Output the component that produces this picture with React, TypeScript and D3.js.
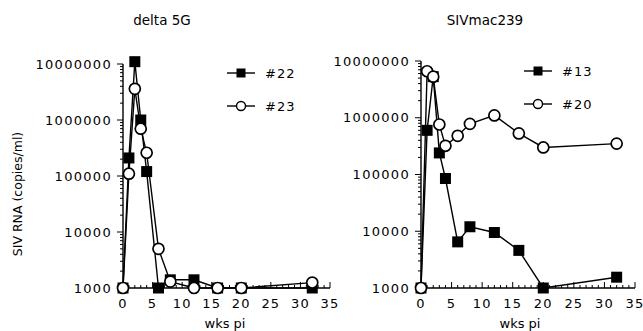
import React, { useEffect, useRef } from "react";
import * as d3 from "d3";

// weeks post infection
const weeks = [0, 1, 2, 3, 4, 6, 8, 12, 16, 20, 32];

// delta 5G animals
const animal22 = [1000, 210000, 11000000, 1000000, 120000, 1000, 1400, 1400, 1000, 1000, 1000];
const animal23 = [1000, 110000, 3600000, 700000, 260000, 5000, 1300, 1000, 1000, 1000, 1250];

// SIVmac239 animals
const animal13 = [1000, 600000, 5300000, 240000, 85000, 6500, 12000, 9500, 4600, 1000, 1550];
const animal20 = [1000, 6600000, 5300000, 760000, 320000, 480000, 780000, 1100000, 530000, 300000, 350000];

const yTicks = [1000, 10000, 100000, 1000000, 10000000];
const xTicks = [0, 5, 10, 15, 20, 25, 30, 35];

const FONT = "'DejaVu Sans', Verdana, sans-serif";

interface Series {
    name: string;
    values: number[];
    filled: boolean;
}

interface Panel {
    title: string;
    titleX: number;
    left: number;
    right: number;
    top: number;
    bottom: number;
    legendX: number;
    legendY: number;
    labelX: number;
    series: Series[];
}

const panels: Panel[] = [
    {
        title: "delta 5G", titleX: 162,
        left: 123, right: 330, top: 64, bottom: 288,
        legendX: 227, legendY: 73, labelX: 225,
        series: [
            { name: "#22", values: animal22, filled: true },
            { name: "#23", values: animal23, filled: false },
        ],
    },
    {
        title: "SIVmac239", titleX: 485,
        left: 421, right: 635, top: 61, bottom: 288,
        legendX: 524, legendY: 71, labelX: 520,
        series: [
            { name: "#13", values: animal13, filled: true },
            { name: "#20", values: animal20, filled: false },
        ],
    },
];

export default function App() {
    const svgRef = useRef<SVGSVGElement | null>(null);

    useEffect(() => {
        if (!svgRef.current) return;
        const svg = d3.select(svgRef.current);
        svg.selectAll("*").remove();

        panels.forEach((p) => {
            const g = svg.append("g");
            const x = d3.scaleLinear().domain([0, 35]).range([p.left, p.right]);
            const y = d3.scaleLog().domain([1000, 10000000]).range([p.bottom, p.top]);

            // title
            g.append("text")
                .attr("x", p.titleX)
                .attr("y", 25)
                .attr("text-anchor", "middle")
                .style("font-family", FONT)
                .style("font-size", "13.5px")
                .text(p.title);

            // y axis with log minor ticks
            g.append("line")
                .attr("x1", p.left).attr("x2", p.left)
                .attr("y1", y(10000000)).attr("y2", y(1000))
                .attr("stroke", "#000").attr("stroke-width", 1.4);
            const minor: number[] = [];
            for (let e = 3; e < 7; e++) {
                for (let m = 1; m < 10; m++) minor.push(m * Math.pow(10, e));
            }
            minor.push(10000000);
            g.selectAll(".ymin")
                .data(minor)
                .join("line")
                .attr("x1", p.left)
                .attr("x2", (d) => (yTicks.includes(d) ? p.left - 6 : p.left - 3))
                .attr("y1", (d) => y(d))
                .attr("y2", (d) => y(d))
                .attr("stroke", "#000")
                .attr("stroke-width", 1);
            g.selectAll(".ylab")
                .data(yTicks)
                .join("text")
                .attr("x", p.left - 11)
                .attr("y", (d) => y(d))
                .attr("dy", "0.36em")
                .attr("text-anchor", "end")
                .style("font-family", FONT)
                .style("font-size", "13px")
                .style("letter-spacing", "1.3px")
                .text((d) => d3.format("d")(d));

            // x axis with weekly minor ticks
            g.append("line")
                .attr("x1", x(0)).attr("x2", x(35))
                .attr("y1", p.bottom).attr("y2", p.bottom)
                .attr("stroke", "#000").attr("stroke-width", 1.4);
            g.selectAll(".xmin")
                .data(d3.range(0, 36))
                .join("line")
                .attr("x1", (d) => x(d))
                .attr("x2", (d) => x(d))
                .attr("y1", p.bottom)
                .attr("y2", (d) => (d % 5 === 0 ? p.bottom - 6 : p.bottom - 3))
                .attr("stroke", "#000")
                .attr("stroke-width", 1);
            g.selectAll(".xlab")
                .data(xTicks)
                .join("text")
                .attr("x", (d) => x(d))
                .attr("y", p.bottom + 20)
                .attr("text-anchor", "middle")
                .style("font-family", FONT)
                .style("font-size", "13px")
                .style("letter-spacing", "1.2px")
                .text((d) => d);

            g.append("text")
                .attr("x", p.labelX)
                .attr("y", 328)
                .attr("text-anchor", "middle")
                .style("font-family", FONT)
                .style("font-size", "13px")
                .text("wks pi");

            // series
            const line = d3.line<number>()
                .x((_, i) => x(weeks[i]))
                .y((d) => y(d));

            p.series.forEach((s) => {
                const sg = g.append("g");
                sg.append("path")
                    .datum(s.values)
                    .attr("d", line)
                    .attr("fill", "none")
                    .attr("stroke", "#000")
                    .attr("stroke-width", 1.4);
                if (s.filled) {
                    sg.selectAll("rect")
                        .data(s.values)
                        .join("rect")
                        .attr("x", (_, i) => x(weeks[i]) - 5.5)
                        .attr("y", (d) => y(d) - 5.5)
                        .attr("width", 11)
                        .attr("height", 11)
                        .attr("fill", "#000");
                } else {
                    sg.selectAll("circle")
                        .data(s.values)
                        .join("circle")
                        .attr("cx", (_, i) => x(weeks[i]))
                        .attr("cy", (d) => y(d))
                        .attr("r", 5.5)
                        .attr("fill", "#fff")
                        .attr("stroke", "#000")
                        .attr("stroke-width", 1.7);
                }
            });

            // legend
            p.series.forEach((s, i) => {
                const ly = p.legendY + i * 33;
                const lg = g.append("g");
                lg.append("line")
                    .attr("x1", p.legendX).attr("x2", p.legendX + 28)
                    .attr("y1", ly).attr("y2", ly)
                    .attr("stroke", "#000").attr("stroke-width", 1.4);
                if (s.filled) {
                    lg.append("rect")
                        .attr("x", p.legendX + 14 - 4.5).attr("y", ly - 4.5)
                        .attr("width", 9).attr("height", 9)
                        .attr("fill", "#000");
                } else {
                    lg.append("circle")
                        .attr("cx", p.legendX + 14).attr("cy", ly)
                        .attr("r", 4.5)
                        .attr("fill", "#fff").attr("stroke", "#000").attr("stroke-width", 1.4);
                }
                lg.append("text")
                    .attr("x", p.legendX + 38)
                    .attr("y", ly)
                    .attr("dy", "0.36em")
                    .style("font-family", FONT)
                    .style("font-size", "13px")
                    .style("letter-spacing", "1px")
                    .text(s.name);
            });
        });

        // y axis title
        svg.append("text")
            .attr("transform", "translate(22,194) rotate(-90)")
            .attr("text-anchor", "middle")
            .style("font-family", FONT)
            .style("font-size", "12.5px")
            .text("SIV RNA (copies/ml)");
    }, []);

    return (
        <svg
            ref={svgRef}
            width={643}
            height={331}
            style={{ position: "absolute", left: 0, top: 0, background: "#fff" }}
        />
    );
}
